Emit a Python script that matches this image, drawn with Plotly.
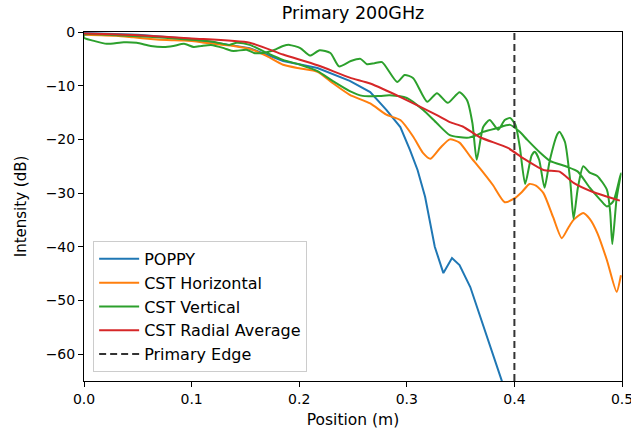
import plotly.graph_objects as go

# POPPY
poppy_x = [0.000, 0.050, 0.100, 0.154, 0.185, 0.217, 0.247, 0.266, 0.281, 0.294, 0.303,
           0.310, 0.317, 0.326, 0.334, 0.342, 0.349, 0.359, 0.388, 0.395]
poppy_y = [-0.2, -0.5, -1.3, -3.0, -5.4, -6.7, -9.1, -11.2, -14.5, -17.7, -22.0,
           -25.7, -30.7, -40.0, -44.9, -42.1, -43.4, -47.5, -64.8, -69.0]

# CST Horizontal
horiz_x = [0.000, 0.030, 0.046, 0.062, 0.077, 0.093, 0.109, 0.124, 0.139, 0.155, 0.170,
           0.185, 0.201, 0.217, 0.231, 0.247, 0.266, 0.281, 0.294, 0.306, 0.315, 0.322,
           0.331, 0.340, 0.349, 0.359, 0.368, 0.380, 0.391, 0.400, 0.407, 0.414, 0.420,
           0.427, 0.436, 0.444, 0.450, 0.455, 0.464, 0.470, 0.477, 0.486, 0.495, 0.499]
horiz_y = [-0.5, -0.7, -1.0, -1.3, -1.5, -1.6, -1.9, -2.3, -2.6, -3.2, -4.5,
           -6.1, -6.8, -7.4, -9.5, -11.7, -13.3, -15.4, -16.4, -19.5, -22.5, -23.6,
           -21.6, -20.0, -20.6, -23.2, -25.4, -28.5, -31.7, -31.0, -29.8, -28.3, -28.6,
           -30.0, -34.5, -38.4, -36.5, -35.0, -33.7, -34.8, -37.4, -42.5, -48.4, -45.3]

# CST Vertical, outward branch (oscillating)
vert_a_x = [0.000, 0.010, 0.021, 0.037, 0.049, 0.062, 0.074, 0.083, 0.093, 0.102, 0.109,
            0.118, 0.130, 0.137, 0.142, 0.151, 0.158, 0.166, 0.175, 0.185, 0.191, 0.201,
            0.210, 0.219, 0.229, 0.237, 0.248, 0.257, 0.263, 0.270, 0.277, 0.291, 0.298,
            0.306, 0.319, 0.328, 0.338, 0.349, 0.356, 0.361, 0.365, 0.371, 0.377, 0.385,
            0.391, 0.396, 0.401, 0.405, 0.410, 0.416, 0.419, 0.423, 0.428, 0.433, 0.440,
            0.442, 0.447, 0.452, 0.455, 0.459, 0.464, 0.470, 0.477, 0.486, 0.489, 0.491,
            0.495, 0.499]
vert_a_y = [-1.1, -1.7, -2.2, -1.9, -2.0, -2.6, -2.8, -2.6, -2.2, -2.8, -2.6,
            -2.4, -3.0, -3.5, -3.5, -3.3, -3.9, -3.9, -3.5, -2.6, -2.4, -3.0,
            -4.4, -3.4, -3.9, -6.4, -5.4, -5.0, -6.0, -5.8, -5.6, -9.3, -8.0,
            -8.6, -13.0, -11.4, -13.2, -11.2, -12.7, -17.0, -23.8, -17.7, -16.4, -18.2,
            -16.4, -16.0, -17.3, -21.4, -28.3, -23.0, -22.3, -23.8, -29.0, -23.8, -19.0,
            -18.6, -20.5, -28.0, -34.8, -29.0, -25.0, -26.2, -26.8, -29.4, -33.5, -39.5,
            -31.0, -26.3]

# CST Vertical, return branch (smoother)
vert_b_x = [0.000, 0.030, 0.060, 0.090, 0.120, 0.135, 0.142, 0.154, 0.170, 0.185, 0.201,
            0.217, 0.231, 0.247, 0.259, 0.275, 0.284, 0.300, 0.315, 0.328, 0.340, 0.356,
            0.365, 0.371, 0.384, 0.396, 0.405, 0.412, 0.424, 0.433, 0.449, 0.459, 0.470,
            0.480, 0.486, 0.492, 0.499]
vert_b_y = [-0.5, -0.6, -0.9, -1.3, -1.8, -2.4, -2.0, -2.4, -3.9, -5.2, -6.1,
            -7.3, -9.1, -11.0, -11.9, -11.9, -11.8, -12.3, -14.5, -17.0, -19.2, -19.7,
            -19.2, -18.6, -17.9, -17.3, -18.6, -20.1, -22.5, -24.0, -25.1, -26.0, -29.0,
            -31.3, -32.5, -31.5, -26.3]

# CST Radial Average
radial_x = [0.000, 0.050, 0.100, 0.154, 0.185, 0.217, 0.247, 0.266, 0.296, 0.328, 0.340,
            0.352, 0.368, 0.394, 0.408, 0.427, 0.442, 0.455, 0.473, 0.498]
radial_y = [-0.3, -0.6, -1.2, -2.0, -4.2, -6.2, -8.5, -9.6, -12.3, -15.5, -16.8,
            -17.6, -19.6, -21.6, -23.5, -25.7, -26.0, -28.1, -29.8, -31.4]

edge_x = [0.4, 0.4]
edge_y = [-65, 0]

x_ticks = [0.0, 0.1, 0.2, 0.3, 0.4, 0.5]
y_ticks = [0, -10, -20, -30, -40, -50, -60]

vert_x = vert_b_x[::-1] + vert_a_x
vert_y = vert_b_y[::-1] + vert_a_y

fig = go.Figure()
fig.add_trace(go.Scatter(x=poppy_x, y=poppy_y, mode="lines", name="POPPY",
                         line=dict(color="#1f77b4", width=2)))
fig.add_trace(go.Scatter(x=horiz_x, y=horiz_y, mode="lines", name="CST Horizontal",
                         line=dict(color="#ff7f0e", width=2, shape="spline", smoothing=0.6)))
fig.add_trace(go.Scatter(x=vert_x, y=vert_y, mode="lines", name="CST Vertical",
                         line=dict(color="#2ca02c", width=2, shape="spline", smoothing=0.6)))
fig.add_trace(go.Scatter(x=radial_x, y=radial_y, mode="lines", name="CST Radial Average",
                         line=dict(color="#d62728", width=2, shape="spline", smoothing=0.6)))
fig.add_trace(go.Scatter(x=edge_x, y=edge_y, mode="lines", name="Primary Edge",
                         line=dict(color="#333333", width=2, dash="7px,4px")))

axis_common = dict(showline=True, linecolor="black", linewidth=1, mirror=True,
                   ticks="outside", ticklen=5, tickcolor="black", tickwidth=1,
                   showgrid=False, zeroline=False, automargin=False,
                   ticklabeloverflow="allow",
                   tickfont=dict(family="DejaVu Sans", size=14, color="black"))

fig.update_layout(
    width=631, height=431,
    margin=dict(l=84, r=9, t=32, b=50, autoexpand=False),
    paper_bgcolor="white", plot_bgcolor="white",
    font=dict(family="DejaVu Sans", size=14, color="black"),
    title=dict(text="Primary 200GHz", x=(84 + 622) / 2 / 631, xref="container", xanchor="center",
               y=1 - 13 / 431, yref="container", yanchor="middle",
               font=dict(family="DejaVu Sans", size=17.5, color="black")),
    xaxis=dict(range=[0, 0.5], tickvals=x_ticks, tickformat=".1f",
               title=dict(text="Position (m)", standoff=8,
                          font=dict(family="DejaVu Sans", size=15.5)),
               **axis_common),
    yaxis=dict(range=[-65, 0], tickvals=y_ticks,
               title=dict(text="Intensity (dB)",
                          font=dict(family="DejaVu Sans", size=15)),
               **axis_common),
    legend=dict(x=0.017, y=0.026, xanchor="left", yanchor="bottom",
                bgcolor="rgba(255,255,255,0.8)", bordercolor="#cccccc", borderwidth=1,
                font=dict(family="DejaVu Sans", size=16), itemwidth=40,
                tracegroupgap=0),
    showlegend=True,
)

fig.write_html("out.html", config={"displayModeBar": False},
               post_script="document.body.style.margin='0';")
